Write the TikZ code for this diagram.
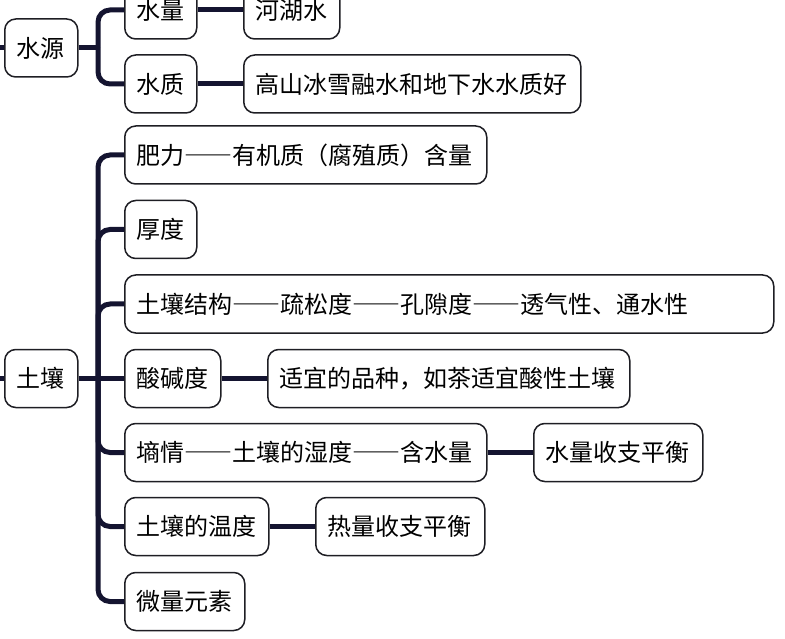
\documentclass[tikz,border=0pt]{standalone}
\usepackage{fontspec}
\setmainfont{Noto Sans CJK SC}[RawFeature=+fwid]
\usetikzlibrary{arrows}
\usetikzlibrary{backgrounds,positioning}
\usepackage{xcolor}
\definecolor{linkcol}{RGB}{20,20,48}
\definecolor{boxcol}{RGB}{30,30,36}

\begin{document}
\begin{tikzpicture}[x=1pt,y=-1pt]
      \tikzstyle{every node}=[font=\fontsize{24}{28}\selectfont]
      \tikzstyle{box}=[draw=boxcol, line width=1.5pt, rounded corners=11pt, minimum height=58pt, inner xsep=12pt, inner ysep=0pt, anchor=west, align=left]
      \tikzstyle{link}=[draw=linkcol, line width=5pt, rounded corners=12pt]
      \useasboundingbox (0,0) rectangle (785,639);

      \node[box, text width=49pt] (src) at (4,48) {水源};
      \node[box, text width=48pt] (ql) at (124,10) {水量};
      \node[box, text width=72pt] (hh) at (243,10) {河湖水};
      \node[box, text width=48pt] (qz) at (124,84) {水质};
      \node[box, text width=313pt] (gs) at (243,84) {高山冰雪融水和地下水水质好};

      \node[box, text width=49pt] (soil) at (4,378.5) {土壤};
      \node[box, text width=338pt] (fl) at (124,155) {肥力——有机质（腐殖质）含量};
      \node[box, text width=48pt] (hd) at (124,229.5) {厚度};
      \node[box, text width=625pt] (jg) at (124,304) {土壤结构——疏松度——孔隙度——透气性、通水性};
      \node[box, text width=72pt] (sj) at (124,378.5) {酸碱度};
      \node[box, text width=338pt] (sy) at (267,378.5) {适宜的品种，如茶适宜酸性土壤};
      \node[box, text width=338pt] (sq) at (124,452.5) {墒情——土壤的湿度——含水量};
      \node[box, text width=145pt] (sz) at (533,452.5) {水量收支平衡};
      \node[box, text width=120pt] (wd) at (124,526.5) {土壤的温度};
      \node[box, text width=145pt] (rl) at (315,526.5) {热量收支平衡};
      \node[box, text width=96pt] (wl) at (124,601.5) {微量元素};

      \coordinate (in1) at (0,48);
      \coordinate (in2) at (0,378.5);
      \coordinate (j1) at (98,48);
      \coordinate (j2) at (98,378.5);

      \draw[link] (in1) -- (src.west) {};
      \draw[link] (src.east) -- (j1) {};
      \draw[link] (j1) |- (ql.west) {};
      \draw[link] (j1) |- (qz.west) {};
      \draw[link] (ql.east) -- (hh.west) {};
      \draw[link] (qz.east) -- (gs.west) {};

      \draw[link] (in2) -- (soil.west) {};
      \draw[link] (soil.east) -- (j2) {};
      \draw[link] (j2) |- (fl.west) {};
      \draw[link] (j2) |- (hd.west) {};
      \draw[link] (j2) |- (jg.west) {};
      \draw[link] (j2) -- (sj.west) {};
      \draw[link] (j2) |- (sq.west) {};
      \draw[link] (j2) |- (wd.west) {};
      \draw[link] (j2) |- (wl.west) {};
      \draw[link] (sj.east) -- (sy.west) {};
      \draw[link] (sq.east) -- (sz.west) {};
      \draw[link] (wd.east) -- (rl.west) {};
    \end{tikzpicture}
\end{document}
